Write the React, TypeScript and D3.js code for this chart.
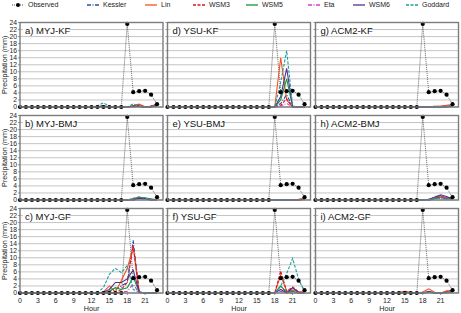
import React from "react";
import * as d3 from "d3";

const hours = d3.range(0, 24);
const observed = [0,0,0,0,0,0,0,0,0,0,0,0,0,0,0,0,0,0,23.6,4.2,4.5,4.6,3.5,0.8];
const models = ["Kessler","Lin","WSM3","WSM5","Eta","WSM6","Goddard"];
const modelColors = ["#2b4fa8","#f4511e","#e3101e","#14963c","#cf3fc4","#51318f","#1f9e9c"];
const modelDash = ["4,1.5,1,1.5","","3,1.5","","4,1.5,1,1.5","","3,1.5"];
const panelTitles = ["a) MYJ-KF","b) MYJ-BMJ","c) MYJ-GF","d) YSU-KF","e) YSU-BMJ","f) YSU-GF","g) ACM2-KF","h) ACM2-BMJ","i) ACM2-GF"];
const yTicks = [0,2,4,6,8,10,12,14,16,18,20,22,24];
const xTicks = [0,3,6,9,12,15,18,21];

// rows: Kessler, Lin, WSM3, WSM5, Eta, WSM6, Goddard ; columns: hours 0..23
const mjyKF = [
  [0,0,0,0,0,0,0,0,0,0,0,0,0,0.1,0.4,0,0,0,0,0.3,0.1,0,0.2,0.8],
  [0,0,0,0,0,0,0,0,0,0,0,0,0,0,0.3,0,0,0,0,0.4,0.8,0.1,0.2,0.5],
  [0,0,0,0,0,0,0,0,0,0,0,0,0,0,0.2,0,0,0,0,0.3,0.5,0,0.3,1.0],
  [0,0,0,0,0,0,0,0,0,0,0,0,0,0,0.3,0,0,0,0,0.2,0.3,0,0,0.4],
  [0,0,0,0,0,0,0,0,0,0,0,0,0,0,0.2,0,0,0,0,0,0.2,0,0,0.3],
  [0,0,0,0,0,0,0,0,0,0,0,0,0,0,0.2,0,0,0,0,0.2,0.2,0,0,0.5],
  [0,0,0,0,0,0,0,0,0,0,0,0,0,0.3,1.2,0.2,0,0,0,0.9,0.3,0,0,0.6],
];
const mjyBMJ = [
  [0,0,0,0,0,0,0,0,0,0,0,0,0,0,0,0,0,0,0,0.3,0.6,0.4,0.2,0],
  [0,0,0,0,0,0,0,0,0,0,0,0,0,0,0,0,0,0,0,0.4,0.8,0.5,0.3,0.2],
  [0,0,0,0,0,0,0,0,0,0,0,0,0,0,0,0,0,0,0,0,0.5,0.3,0,0],
  [0,0,0,0,0,0,0,0,0,0,0,0,0,0,0,0,0,0,0,0.3,0.6,0.6,0.3,0],
  [0,0,0,0,0,0,0,0,0,0,0,0,0,0,0,0,0,0,0,0,0.4,0.3,0,0],
  [0,0,0,0,0,0,0,0,0,0,0,0,0,0,0,0,0,0,0,0,0.5,0.4,0,0],
  [0,0,0,0,0,0,0,0,0,0,0,0,0,0,0,0,0,0,0,0.5,0.9,0.5,0.2,0],
];
const mjyGF = [
  [0,0,0,0,0,0,0,0,0,0,0,0,0,0,0,0.5,1,2,3,15,0.3,0,0,0],
  [0,0,0,0,0,0,0,0,0,0,0,0,0,0,0.3,2,0.3,3.5,7,13,0.2,0,0,0],
  [0,0,0,0,0,0,0,0,0,0,0,0,0,0,0,0,0,1,3,13.5,0.2,0,0,0],
  [0,0,0,0,0,0,0,0,0,0,0,0,0,0,0,0.5,1.5,1,1.5,4.5,0.3,0,0,0],
  [0,0,0,0,0,0,0,0,0,0,0,0,0,0,0,0,0,0.3,0.5,2.5,0,0,0,0],
  [0,0,0,0,0,0,0,0,0,0,0,0,0,0,0.2,1,3,3,4,6.5,0.3,0,0,0],
  [0,0,0,0,0,0,0,0,0,0,0,0,0,0.2,1.5,5.3,7,5.8,7.8,1,0.3,0,0,0],
];
const ysuKF = [
  [0,0,0,0,0,0,0,0,0,0,0,0,0,0,0,0,0,0,0,1,3.5,0,0,0],
  [0,0,0,0,0,0,0,0,0,0,0,0,0,0,0,0,0,0,0,14,2,0,0,0],
  [0,0,0,0,0,0,0,0,0,0,0,0,0,0,0,0,0,0,0,0.5,2.3,0,0,0],
  [0,0,0,0,0,0,0,0,0,0,0,0,0,0,0,0,0,0,0,2,8,0,0,0],
  [0,0,0,0,0,0,0,0,0,0,0,0,0,0,0,0,0,0,0,0.3,1,0,0,0],
  [0,0,0,0,0,0,0,0,0,0,0,0,0,0,0,0,0,0,0,3,11,0,0,0],
  [0,0,0,0,0,0,0,0,0,0,0,0,0,0,0,0,0,0,0,7,16,0.3,0,0],
];
const ysuBMJ = [
  [0,0,0,0,0,0,0,0,0,0,0,0,0,0,0,0,0,0,0,0,0,0,0.1,0.3],
  [0,0,0,0,0,0,0,0,0,0,0,0,0,0,0,0,0,0,0,0,0,0,0.2,0.5],
  [0,0,0,0,0,0,0,0,0,0,0,0,0,0,0,0,0,0,0,0,0,0,0.1,0.4],
  [0,0,0,0,0,0,0,0,0,0,0,0,0,0,0,0,0,0,0,0,0,0,0,0.2],
  [0,0,0,0,0,0,0,0,0,0,0,0,0,0,0,0,0,0,0,0,0,0,0,0.1],
  [0,0,0,0,0,0,0,0,0,0,0,0,0,0,0,0,0,0,0,0,0,0,0,0.2],
  [0,0,0,0,0,0,0,0,0,0,0,0,0,0,0,0,0,0,0,0,0,0,0,0.3],
];
const ysuGF = [
  [0,0,0,0,0,0,0,0,0,0,0,0,0,0,0,0,0,0,0,2,0,0,0,0],
  [0,0,0,0,0,0,0,0,0,0,0,0,0,0,0,0,0,0,0,5,0.5,0.8,0.3,0.4],
  [0,0,0,0,0,0,0,0,0,0,0,0,0,0,0,0,0,0,0,6.2,0.5,1.7,0.3,0],
  [0,0,0,0,0,0,0,0,0,0,0,0,0,0,0,0,0,0,0,2,0.2,0.5,0,0],
  [0,0,0,0,0,0,0,0,0,0,0,0,0,0,0,0,0,0,0,0.5,0,1.5,0,0],
  [0,0,0,0,0,0,0,0,0,0,0,0,0,0,0,0,0,0,0,1,0,1.5,0.2,0],
  [0,0,0,0,0,0,0,0,0,0,0,0,0,0,0,0,0,0,0,2,5.5,9.8,4,0.3],
];
const acmKF = [
  [0,0,0,0,0,0,0,0,0,0,0,0,0,0,0,0,0,0,0,0,0.1,0.2,0.2,0.3],
  [0,0,0,0,0,0,0,0,0,0,0,0,0,0,0,0,0,0,0,0,0.2,0.3,0.5,0.7],
  [0,0,0,0,0,0,0,0,0,0,0,0,0,0,0,0,0,0,0,0,0,0.1,0.2,0.4],
  [0,0,0,0,0,0,0,0,0,0,0,0,0,0,0,0,0,0,0,0,0,0,0.1,0.2],
  [0,0,0,0,0,0,0,0,0,0,0,0,0,0,0,0,0,0,0,0,0,0,0,0.1],
  [0,0,0,0,0,0,0,0,0,0,0,0,0,0,0,0,0,0,0,0,0,0,0.1,0.2],
  [0,0,0,0,0,0,0,0,0,0,0,0,0,0,0,0,0,0,0,0,0.2,0.1,0.1,0.3],
];
const acmBMJ = [
  [0,0,0,0,0,0,0,0,0,0,0,0,0,0,0,0,0,0,0,0,0.3,0.6,0.3,0.4],
  [0,0,0,0,0,0,0,0,0,0,0,0,0,0,0,0,0,0,0,0,0.4,0.8,0.6,0.8],
  [0,0,0,0,0,0,0,0,0,0,0,0,0,0,0,0,0,0,0,0,0.4,1.0,0.5,0.5],
  [0,0,0,0,0,0,0,0,0,0,0,0,0,0,0,0,0,0,0,0,0.5,1.2,0.6,0.3],
  [0,0,0,0,0,0,0,0,0,0,0,0,0,0,0,0,0,0,0,0,1.0,1.2,0.5,0.2],
  [0,0,0,0,0,0,0,0,0,0,0,0,0,0,0,0,0,0,0,0.2,0.8,1.5,1.0,0.3],
  [0,0,0,0,0,0,0,0,0,0,0,0,0,0,0,0,0,0,0,0.2,0.5,0.4,0.2,0.3],
];
const acmGF = [
  [0,0,0,0,0,0,0,0,0,0,0,0,0,0,0,0.1,0,0,0,0.3,0,0,0.2,0.4],
  [0,0,0,0,0,0,0,0,0,0,0,0,0,0,0.2,0.5,0.2,0,0.3,1.2,0.2,0,0.6,0.8],
  [0,0,0,0,0,0,0,0,0,0,0,0,0,0,0,0.2,0,0,0,0.4,0,0,0.3,0.5],
  [0,0,0,0,0,0,0,0,0,0,0,0,0,0,0,0.1,0,0,0,0.2,0,0,0.1,0.3],
  [0,0,0,0,0,0,0,0,0,0,0,0,0,0,0,0,0,0,0,0.3,0,0,0,0.2],
  [0,0,0,0,0,0,0,0,0,0,0,0,0,0,0,0.3,0,0,0,0.5,0,0,0.2,0.3],
  [0,0,0,0,0,0,0,0,0,0,0,0,0,0,0,0.1,0,0,0,0.2,0,0,0.1,0.3],
];
const panelData = [mjyKF, mjyBMJ, mjyGF, ysuKF, ysuBMJ, ysuGF, acmKF, acmBMJ, acmGF];

const W = 461, H = 313;
const colLeft = [20, 167.5, 315.5];
const rowTop = [22.5, 115.5, 208.5];
const pw = 143, ph = 84.5;
const FONT = "'Liberation Sans', Arial, sans-serif";

function Panel({ idx }: { idx: number }) {
  const col = Math.floor(idx / 3), row = idx % 3;
  const x0 = colLeft[col], y0 = rowTop[row];
  const x = d3.scaleLinear().domain([0, 24]).range([x0, x0 + pw]);
  const y = d3.scaleLinear().domain([0, 24]).range([y0 + ph, y0]);
  const line = d3.line<number>().x((_, i) => x(hours[i])).y(v => y(v));
  const data = panelData[idx];
  return (
    <g>
      <rect x={x0} y={y0} width={pw} height={ph} fill="#fff" />
      {yTicks.map(t => (
        <line key={t} x1={x0} x2={x0 + pw} y1={y(t)} y2={y(t)} stroke="#c4c4c4" strokeWidth={1} />
      ))}
      {yTicks.map(t => (
        <line key={"t" + t} x1={x0 - 2} x2={x0} y1={y(t)} y2={y(t)} stroke="#777" strokeWidth={0.8} />
      ))}
      {col === 0 && yTicks.map(t => (
        <text key={"l" + t} x={x0 - 3} y={y(t) + 2.4} fontSize={6.8} textAnchor="end" fill="#222" fontFamily={FONT}>{t}</text>
      ))}
      {col === 0 && (
        <text transform={`translate(7,${y0 + ph / 2}) rotate(-90)`} fontSize={7.2} textAnchor="middle" fill="#222" fontFamily={FONT}>Precipitation (mm)</text>
      )}
      {row === 2 && xTicks.map(t => (
        <g key={"x" + t}>
          <line x1={x(t)} x2={x(t)} y1={y0 + ph} y2={y0 + ph + 2} stroke="#777" strokeWidth={0.8} />
          <text x={x(t)} y={y0 + ph + 9.5} fontSize={7} textAnchor="middle" fill="#222" fontFamily={FONT}>{t}</text>
        </g>
      ))}
      {row === 2 && (
        <text x={x0 + pw / 2} y={y0 + ph + 18} fontSize={7.2} textAnchor="middle" fill="#222" fontFamily={FONT}>Hour</text>
      )}
      <path d={line(observed) || ""} fill="none" stroke="#444" strokeWidth={0.8} strokeDasharray="1,1" />
      {data.map((s, m) => (
        <path key={m} d={line(s) || ""} fill="none" stroke={modelColors[m]} strokeWidth={1.1} strokeDasharray={modelDash[m] || undefined} />
      ))}
      {observed.map((v, i) => (
        <circle key={"o" + i} cx={x(hours[i])} cy={y(v)} r={2.1} fill="#000" />
      ))}
      <rect x={x0} y={y0} width={pw} height={ph} fill="none" stroke="#7c7c7c" strokeWidth={1.4} />
      <rect x={x0 + 3} y={y0 + 2.5} width={panelTitles[idx].length * 4.6 + 4} height={10} fill="#fff" />
      <text x={x0 + 5} y={y0 + 11} fontSize={9.5} fill="#111" fontFamily={FONT}>{panelTitles[idx]}</text>
    </g>
  );
}

const legendX = [12, 87, 145, 193, 246, 308, 353, 406];

export default function App() {
  return (
    <svg width={W} height={H} style={{ position: "absolute", left: 0, top: 0, background: "#fff" }}>
      <g>
        <line x1={legendX[0]} x2={legendX[0] + 12} y1={5} y2={5} stroke="#333" strokeWidth={0.9} strokeDasharray="1,1" />
        <circle cx={legendX[0] + 6} cy={5} r={2} fill="#000" />
        <text x={legendX[0] + 16} y={7.4} fontSize={7} fill="#222" fontFamily={FONT}>Observed</text>
        {models.map((m, i) => (
          <g key={m}>
            <line x1={legendX[i + 1]} x2={legendX[i + 1] + 12} y1={5} y2={5} stroke={modelColors[i]} strokeWidth={1.3} strokeDasharray={modelDash[i] || undefined} />
            <text x={legendX[i + 1] + 16} y={7.4} fontSize={7} fill="#222" fontFamily={FONT}>{m}</text>
          </g>
        ))}
      </g>
      {d3.range(9).map(i => <Panel key={i} idx={i} />)}
    </svg>
  );
}
